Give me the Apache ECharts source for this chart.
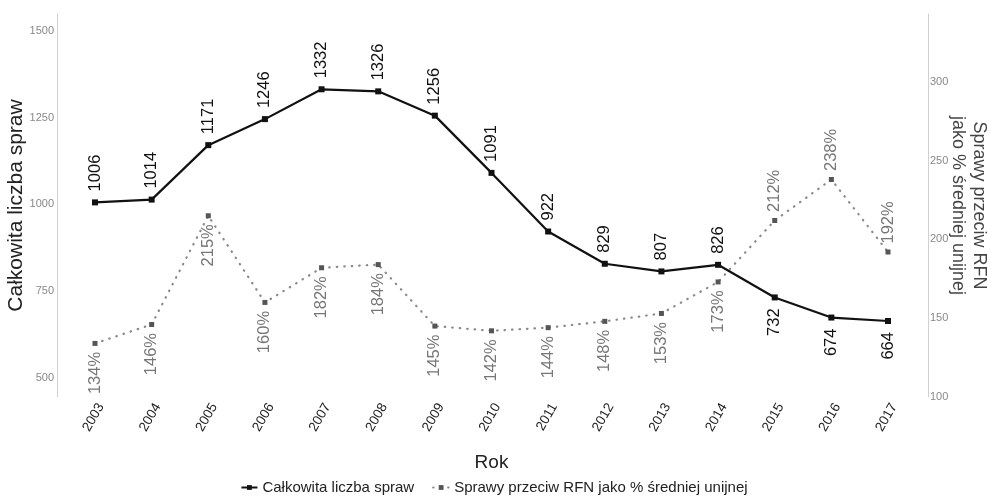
<!DOCTYPE html>
<html>
<head>
<meta charset="utf-8">
<script src="https://cdn.jsdelivr.net/npm/echarts@6/dist/echarts.min.js"></script>
<style>html,body{margin:0;padding:0;background:#fff}#c{width:988px;height:496px}</style>
</head>
<body>
<div id="c"></div>
<script>
const years = ['2003','2004','2005','2006','2007','2008','2009','2010','2011','2012','2013','2014','2015','2016','2017'];
const totalCases = [1006,1014,1171,1246,1332,1326,1256,1091,922,829,807,826,732,674,664];
const pctOfEuAvg = [134,146,215,160,182,184,145,142,144,148,153,173,212,238,192];
const leftTicks = [500,750,1000,1250,1500];
const rightTicks = [100,150,200,250,300];

const FONT = '"Liberation Sans", Arial, sans-serif';
const chart = echarts.init(document.getElementById('c'), null, {renderer: 'canvas'});

const above = (color, size, fmt, d) => ({show: true, position: 'top', distance: d, rotate: 90, align: 'left', verticalAlign: 'middle', color, fontSize: size, fontFamily: FONT, formatter: fmt});
const below = (color, size, fmt, d) => ({show: true, position: 'bottom', distance: d, rotate: 90, align: 'right', verticalAlign: 'middle', color, fontSize: size, fontFamily: FONT, formatter: fmt});

const totalData = totalCases.map((v, i) => ({value: v, label: i >= 12 ? below('#111', 16.5, '{c}', 8) : above('#111', 16.5, '{c}', 8)}));
const pctData = pctOfEuAvg.map((v, i) => ({value: v, label: (i >= 12) ? above('#777', 16.5, '{c}%', 6) : below('#777', 16.5, '{c}%', 6)}));

chart.setOption({
  backgroundColor: '#fff',
  animation: false,
  textStyle: {fontFamily: FONT},
  grid: {left: 95, right: 100, top: 14, bottom: 99, containLabel: false, outerBoundsMode: 'none'},
  legend: {
    top: 475, left: 'center', itemWidth: 16, itemHeight: 6, itemGap: 18,
    textStyle: {fontSize: 15, color: '#222', fontFamily: FONT},
    data: ['Całkowita liczba spraw', 'Sprawy przeciw RFN jako % średniej unijnej']
  },
  xAxis: {
    type: 'category', data: years, boundaryGap: false,
    axisLine: {show: false}, axisTick: {show: false},
    axisLabel: {rotate: 60, fontSize: 13.5, color: '#222', margin: 4, verticalAlign: 'top', fontFamily: FONT},
    splitLine: {show: false},
    name: 'Rok', nameLocation: 'middle', nameGap: 56, nameMoveOverlap: false,
    nameTextStyle: {fontSize: 19, color: '#222', fontFamily: FONT}
  },
  yAxis: [
    {
      type: 'value', position: 'left', min: 445, max: 1549, offset: 38,
      axisLine: {show: true, lineStyle: {color: '#d0d0d0', width: 1}},
      axisTick: {show: false}, splitLine: {show: false},
      axisLabel: {customValues: leftTicks, formatter: v => String(v), fontSize: 11, color: '#888', margin: 3, fontFamily: FONT},
      name: 'Całkowita liczba spraw', nameLocation: 'middle', nameGap: 30, nameMoveOverlap: false,
      nameTextStyle: {fontSize: 21, color: '#222', fontFamily: FONT}
    },
    {
      type: 'value', position: 'right', min: 100, max: 343, offset: 40,
      axisLine: {show: true, lineStyle: {color: '#d0d0d0', width: 1}},
      axisTick: {show: false}, splitLine: {show: false},
      axisLabel: {customValues: rightTicks, formatter: v => String(v), fontSize: 11, color: '#888', margin: 2, fontFamily: FONT},
      name: 'Sprawy przeciw RFN\njako % średniej unijnej', nameLocation: 'middle', nameGap: 19, nameRotate: -90, nameMoveOverlap: false,
      nameTextStyle: {fontSize: 18, color: '#444', fontFamily: FONT, lineHeight: 21}
    }
  ],
  series: [
    {
      name: 'Całkowita liczba spraw', type: 'line', yAxisIndex: 0, data: totalData,
      symbol: 'rect', symbolSize: 6, itemStyle: {color: '#111'},
      lineStyle: {color: '#111', width: 2.2}, z: 3
    },
    {
      name: 'Sprawy przeciw RFN jako % średniej unijnej', type: 'line', yAxisIndex: 1, data: pctData,
      symbol: 'rect', symbolSize: 5, itemStyle: {color: '#555'},
      lineStyle: {color: '#888', width: 2.2, type: [0.5, 7], cap: 'round'}, z: 2
    }
  ]
});
</script>
</body>
</html>
